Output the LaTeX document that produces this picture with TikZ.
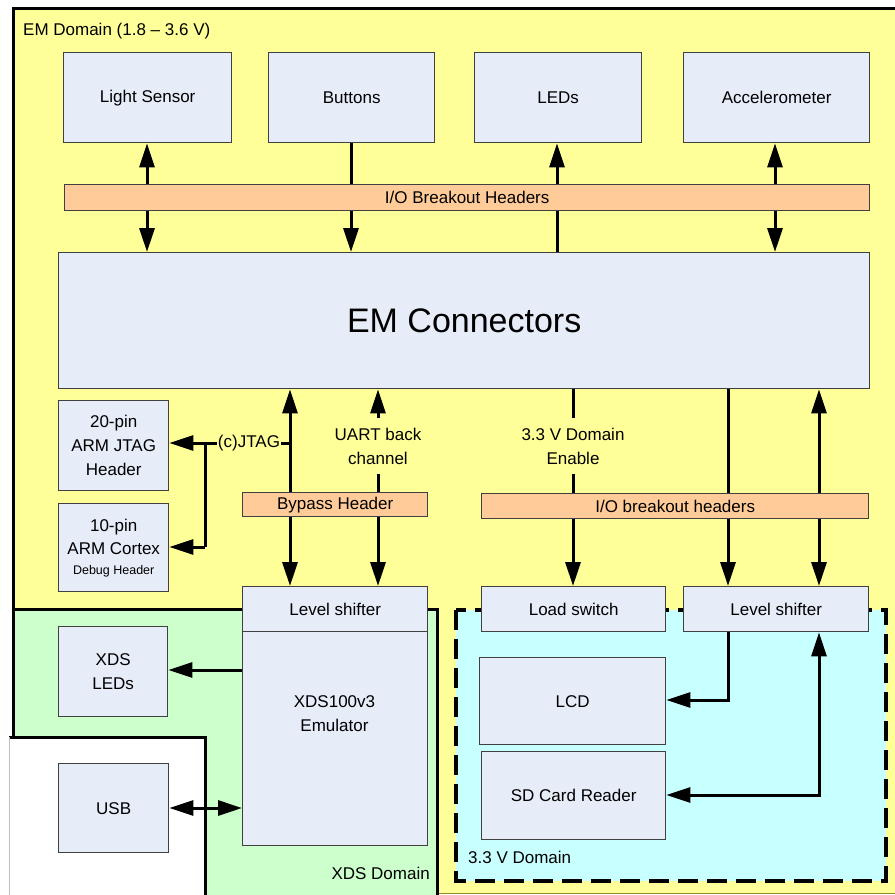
\documentclass[tikz,border=0pt]{standalone}
\usepackage{fontspec}
\setmainfont{Liberation Sans}
\usetikzlibrary{arrows.meta}
\definecolor{emfill}{HTML}{FFFF99}
\definecolor{xdsfill}{HTML}{CCFFCC}
\definecolor{vfill}{HTML}{C8FFFF}
\definecolor{boxfill}{HTML}{E6ECF8}
\definecolor{hdrfill}{HTML}{FFCC99}
\definecolor{boxline}{HTML}{404040}
\tikzset{
  blk/.style={draw=boxline, fill=boxfill, line width=1.4pt, anchor=north west, inner sep=0pt,
    align=center, font=\fontsize{17}{24}\selectfont},
  hdr/.style={blk, fill=hdrfill},
  lbl/.style={inner sep=0pt, align=center, font=\fontsize{17}{24}\selectfont},
  dom/.style={inner sep=0pt, font=\fontsize{17}{20}\selectfont},
  conn/.style={line width=3pt},
  arr/.style={conn, -{Triangle[length=24pt,width=15pt]}},
  darr/.style={conn, {Triangle[length=24pt,width=15pt]}-{Triangle[length=24pt,width=15pt]}},
  edge/.style={line width=3pt, black},
}
\begin{document}
\begin{tikzpicture}[x=1pt,y=-1pt]
\useasboundingbox (0,0) rectangle (895,895);
% domains
\fill[emfill] (13,8) rectangle (895,893);
\draw[edge] (895,8) -- (13,8) -- (13,893);
\draw[olive!70!gray, line width=1pt] (13,893) -- (895,893);
\fill[xdsfill] (13,609) rectangle (437,895);
\draw[edge] (13,895) -- (13,609) -- (437,609) -- (437,895);
\fill[white] (9,737) rectangle (205,895);
\draw[edge] (9,737) -- (205,737) -- (205,895);
\draw[gray!50, line width=0.8pt] (9,737) -- (9,895);
\draw[line width=4pt, dash pattern=on 20pt off 9pt, fill=vfill] (456,610) rectangle (886,881);
\node[dom, anchor=west] (emdom) at (23,31) {EM Domain (1.8 – 3.6 V)};
\node[dom, anchor=east] (xdsdom) at (430,873) {XDS Domain};
\node[dom, anchor=west] (vdom) at (468,857) {3.3 V Domain};
% top blocks
\node[blk, minimum width=168pt, minimum height=90pt] (light) at (63,52) {Light Sensor};
\node[blk, minimum width=166pt, minimum height=90pt] (buttons) at (268,52) {Buttons};
\node[blk, minimum width=167pt, minimum height=90pt] (leds) at (474,52) {LEDs};
\node[blk, minimum width=186pt, minimum height=90pt] (accel) at (683,52) {Accelerometer};
\node[hdr, minimum width=805pt, minimum height=26pt] (iobh) at (64,184) {I/O Breakout Headers};
\node[blk, minimum width=811pt, minimum height=136pt, font=\fontsize{34}{40}\selectfont] (emc) at (58,252) {EM Connectors};
% left headers
\node[blk, minimum width=110pt, minimum height=90pt] (jtag) at (58,400) {20-pin\\ARM JTAG\\Header};
\node[blk, minimum width=110pt, minimum height=88pt] (cortex) at (58,503) {10-pin\\[-1pt]ARM Cortex\\[-4pt]{\fontsize{12.5}{14}\selectfont Debug Header}};
\node[hdr, minimum width=185pt, minimum height=24pt] (bypass) at (242,492) {Bypass Header};
\node[blk, minimum width=185pt, minimum height=45pt] (ls1) at (242,586) {Level shifter};
\node[blk, minimum width=185pt, minimum height=214pt] (xds) at (242,631) {};
\node[lbl] (xdstext) at (334.5,714) {XDS100v3\\Emulator};
\node[blk, minimum width=109pt, minimum height=90pt] (xdsleds) at (58,626) {XDS\\LEDs};
\node[blk, minimum width=110pt, minimum height=89pt] (usb) at (58,763) {USB};
% right side
\node[hdr, minimum width=387pt, minimum height=25pt] (iobh2) at (481,493) {I/O breakout headers};
\node[blk, minimum width=184pt, minimum height=45pt] (load) at (481,586) {Load switch};
\node[blk, minimum width=185pt, minimum height=45pt] (ls2) at (683,586) {Level shifter};
\node[blk, minimum width=186pt, minimum height=87pt] (lcd) at (479,657) {LCD};
\node[blk, minimum width=184pt, minimum height=88pt] (sd) at (481,751) {SD Card Reader};
% labels
\node[lbl, inner sep=0pt, minimum height=56pt] (uart) at (378,446) {UART back\\channel};
\node[lbl, inner sep=0pt, minimum height=56pt] (enable) at (573,446) {3.3 V Domain\\Enable};
\node[lbl, inner xsep=1pt] (cj) at (249,443) {(c)JTAG};
% coordinates
\coordinate (jx) at (290,443);
\coordinate (jl) at (205,443);
\coordinate (jb) at (205,547);
\coordinate (lcdc) at (728,700);
\coordinate (sdc) at (819,795);
% top connectors
\draw[arr] (iobh.north -| 147,0) -- (light.south -| 147,0);
\draw[arr] (iobh.south -| 147,0) -- (emc.north -| 147,0);
\draw[conn] (buttons.south -| 351,0) -- (iobh.north -| 351,0);
\draw[arr] (iobh.south -| 351,0) -- (emc.north -| 351,0);
\draw[arr] (iobh.north -| 557,0) -- (leds.south -| 557,0);
\draw[conn] (emc.north -| 557,0) -- (iobh.south -| 557,0);
\draw[arr] (iobh.north -| 775,0) -- (accel.south -| 775,0);
\draw[arr] (iobh.south -| 775,0) -- (emc.north -| 775,0);
% JTAG
\draw[arr] (bypass.north -| jx) -- (emc.south -| jx);
\draw[arr] (bypass.south -| jx) -- (ls1.north -| jx);
\draw[conn] (cj.east) -- (jx);
\draw[conn] (cj.west) -- (jl) -- (jb);
\draw[arr] (jl) -- (jtag.east |- jl);
\draw[arr] (jb) -- (cortex.east |- jb);
% UART
\draw[arr] (uart.north) -- (emc.south -| uart);
\draw[conn] (uart.south) -- (bypass.north -| uart);
\draw[arr] (bypass.south -| uart) -- (ls1.north -| uart);
% enable
\draw[conn] (emc.south -| enable) -- (enable.north);
\draw[conn] (enable.south) -- (iobh2.north -| enable);
\draw[arr] (iobh2.south -| enable) -- (load.north -| enable);
% right lines
\draw[conn] (emc.south -| lcdc) -- (iobh2.north -| lcdc);
\draw[arr] (iobh2.south -| lcdc) -- (ls2.north -| lcdc);
\draw[arr] (iobh2.north -| sdc) -- (emc.south -| sdc);
\draw[arr] (iobh2.south -| sdc) -- (ls2.north -| sdc);
\draw[arr] (ls2.south -| lcdc) -- (lcdc) -- (lcd.east |- lcdc);
\draw[darr] (sd.east |- sdc) -- (sdc) -- (ls2.south -| sdc);
% XDS
\draw[arr] (xds.west |- 0,670) -- (xdsleds.east |- 0,670);
\draw[darr] (usb.east |- 0,808) -- (xds.west |- 0,808);
\end{tikzpicture}
\end{document}
